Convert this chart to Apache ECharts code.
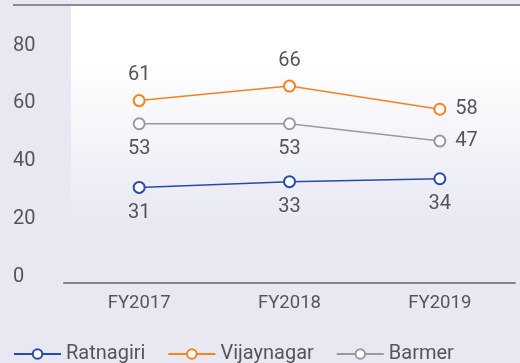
<!DOCTYPE html>
<html>
<head>
<meta charset="utf-8">
<script src="https://cdn.jsdelivr.net/npm/echarts@6/dist/echarts.min.js"></script>
<style>
  html, body { margin: 0; padding: 0; background: #e8e8f3; }
  #chart { width: 520px; height: 363px; }
</style>
</head>
<body>
<div id="chart"></div>
<script>
// Fiscal years on the category axis
const years = ['FY2017', 'FY2018', 'FY2019'];

// Values per plant
const ratnagiri = [31, 33, 34];
const vijaynagar = [61, 66, 58];
const barmer = [53, 53, 47];

// Value-axis labels
const yTicks = [0, 20, 40, 60, 80];

const textColor = '#555559';
const fontFamily = 'Roboto, sans-serif';

// One line series; each point carries its own label position
function lineSeries(name, data, color, positions) {
  return {
    name: name,
    type: 'line',
    symbol: 'emptyCircle',
    symbolSize: 11,
    lineStyle: { color: color, width: 1.5 },
    itemStyle: { color: color, borderWidth: 1.5, borderColor: color },
    label: {
      show: true,
      color: textColor,
      fontSize: 20,
      fontFamily: fontFamily,
      distance: 9
    },
    emphasis: { disabled: true },
    data: data.map(function (v, i) {
      return { value: v, label: { position: positions[i] } };
    })
  };
}

const chart = echarts.init(document.getElementById('chart'), null, { renderer: 'canvas' });

chart.setOption({
  backgroundColor: '#e8e8f3',
  animation: false,
  graphic: [
    {
      type: 'rect',
      silent: true,
      z: -10,
      shape: { x: 71, y: 5, width: 449, height: 220 },
      style: {
        fill: new echarts.graphic.LinearGradient(0, 0, 0, 1, [
          { offset: 0, color: '#ffffff' },
          { offset: 0.25, color: '#ffffff' },
          { offset: 1, color: '#e8e8f3' }
        ])
      }
    },
    {
      type: 'line',
      silent: true,
      shape: { x1: 13, y1: 5, x2: 520, y2: 5 },
      style: { stroke: '#8c8c96', lineWidth: 2 }
    }
  ],
  grid: { left: 64, right: 5, top: 5, bottom: 80, containLabel: false },
  xAxis: {
    type: 'category',
    data: years,
    boundaryGap: true,
    axisLine: { show: true, onZero: false, lineStyle: { color: '#858088', width: 2 } },
    axisTick: { show: false },
    axisLabel: { color: textColor, fontSize: 18.5, fontFamily: fontFamily, margin: 11 }
  },
  yAxis: {
    type: 'value',
    min: -2,
    max: 94,
    splitLine: { show: false },
    axisLine: { show: false },
    axisTick: { show: false },
    axisLabel: {
      customValues: yTicks,
      color: textColor,
      fontSize: 20,
      fontFamily: fontFamily,
      align: 'left',
      margin: 51
    }
  },
  legend: {
    top: 339,
    left: 8,
    itemWidth: 47,
    itemHeight: 12,
    itemGap: 22,
    textStyle: { color: textColor, fontSize: 20, fontFamily: fontFamily },
    data: ['Ratnagiri', 'Vijaynagar', 'Barmer']
  },
  series: [
    lineSeries('Ratnagiri', ratnagiri, '#2a4aa8', ['bottom', 'bottom', 'bottom']),
    lineSeries('Vijaynagar', vijaynagar, '#f5821f', ['top', 'top', 'right']),
    lineSeries('Barmer', barmer, '#9a9a9e', ['bottom', 'bottom', 'right'])
  ]
});
</script>
</body>
</html>
